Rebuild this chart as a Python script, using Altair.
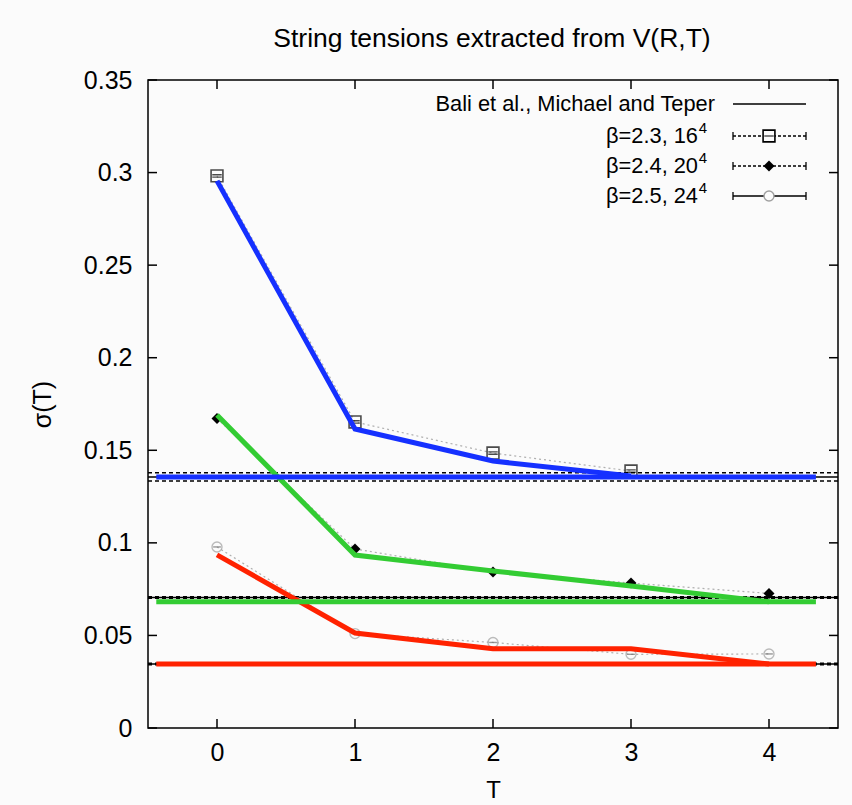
import altair as alt
import pandas as pd

# ---------------- data ----------------
T_TICKS = [0, 1, 2, 3, 4]
SIGMA_TICKS = [0, 0.05, 0.1, 0.15, 0.2, 0.25, 0.3, 0.35]

# measured string tensions (points)
b23_T = [0, 1, 2, 3]
b23_sigma = [0.2982, 0.1653, 0.1485, 0.1388]
b24_T = [0, 1, 2, 3, 4]
b24_sigma = [0.1672, 0.0967, 0.0843, 0.0783, 0.0727]
b25_T = [0, 1, 2, 3, 4]
b25_sigma = [0.0978, 0.0510, 0.0462, 0.0398, 0.0400]

# thick coloured curves
fit23_T = [0, 1, 2, 3]
fit23_sigma = [0.2955, 0.1615, 0.1442, 0.1361]
fit24_T = [0, 1, 2, 3, 4]
fit24_sigma = [0.1690, 0.0934, 0.0848, 0.0767, 0.0682]
fit25_T = [0, 1, 2, 3, 4]
fit25_sigma = [0.0935, 0.0513, 0.0428, 0.0428, 0.0346]

# thick coloured asymptotes
asym_sigma = [0.1356, 0.0682, 0.0346]
asym_T_start = -0.44
asym_T_end = 4.34

# Bali et al., Michael and Teper reference values (central, upper, lower)
bali_sigma = [0.1356, 0.0705, 0.0346]
bali_upper = [0.1378, 0.0709, 0.0350]
bali_lower = [0.1334, 0.0701, 0.0342]
T_MIN, T_MAX = -0.5, 4.5

SERIES_COLORS = ["#1530ff", "#33cc33", "#ff2200"]
FONT = "Liberation Sans"
W, H = 690, 648

xs = alt.Scale(domain=[T_MIN, T_MAX], nice=False, zero=False)
ys = alt.Scale(domain=[0, 0.35], nice=False, zero=False)

xaxis = alt.Axis(values=T_TICKS, format="d", title="T", ticks=False, domain=False, grid=False,
                 labelFont=FONT, labelFontSize=25, labelColor="black", labelPadding=12,
                 titleFont=FONT, titleFontSize=24, titleFontWeight="normal", titleColor="black",
                 titleY=69, titleBaseline="alphabetic")
yaxis = alt.Axis(values=SIGMA_TICKS, format="~g", title="σ(T)", ticks=False, domain=False, grid=False,
                 labelFont=FONT, labelFontSize=25, labelColor="black", labelPadding=16,
                 titleFont=FONT, titleFontSize=25, titleFontWeight="normal", titleColor="black",
                 titleX=-106, titleY=H / 2, titleAngle=270, titleAlign="center", titleBaseline="middle")


def X(field="T"):
    return alt.X(f"{field}:Q", scale=xs, axis=xaxis)


def Y(field="sigma"):
    return alt.Y(f"{field}:Q", scale=ys, axis=yaxis)


layers = []

# ---- Bali et al. horizontal reference lines ----
bali_df = pd.DataFrame({"sigma": bali_sigma, "up": bali_upper, "lo": bali_lower,
                        "T": [T_MIN] * 3, "T2": [T_MAX] * 3})
layers.append(alt.Chart(bali_df).mark_rule(color="black", strokeWidth=1.5).encode(
    x=X(), x2="T2:Q", y=Y()))
layers.append(alt.Chart(bali_df).mark_rule(color="black", strokeWidth=1.5, strokeDash=[4, 3]).encode(
    x=X(), x2="T2:Q", y=Y("up")))
layers.append(alt.Chart(bali_df).mark_rule(color="black", strokeWidth=1.5, strokeDash=[4, 3]).encode(
    x=X(), x2="T2:Q", y=Y("lo")))

# ---- gray dotted connecting lines ----
pts = pd.concat([
    pd.DataFrame({"T": b23_T, "sigma": b23_sigma, "s": "b23"}),
    pd.DataFrame({"T": b24_T, "sigma": b24_sigma, "s": "b24"}),
    pd.DataFrame({"T": b25_T, "sigma": b25_sigma, "s": "b25"}),
])
layers.append(alt.Chart(pts).mark_line(color="#b0b0b0", strokeWidth=1.2, strokeDash=[2, 3]).encode(
    x=X(), y=Y(), detail="s:N"))

# ---- markers ----
d23 = pts[pts.s == "b23"]
d24 = pts[pts.s == "b24"]
d25 = pts[pts.s == "b25"]
layers.append(alt.Chart(d23).mark_point(shape="square", size=140, filled=False, color="black",
                                        strokeWidth=1.6).encode(x=X(), y=Y()))
layers.append(alt.Chart(d23).mark_point(shape="M-1,-0.25L1,-0.25M-1,0.25L1,0.25", size=90,
                                        color="black", strokeWidth=1.4).encode(x=X(), y=Y()))
layers.append(alt.Chart(d24).mark_point(shape="diamond", size=120, filled=True, color="black",
                                        opacity=1).encode(x=X(), y=Y()))
layers.append(alt.Chart(d25).mark_point(shape="circle", size=100, filled=False, color="#a0a0a0",
                                        strokeWidth=1.4).encode(x=X(), y=Y()))
layers.append(alt.Chart(d25).mark_point(shape="M-1,0L1,0", size=60,
                                        color="#707070", strokeWidth=1.4).encode(x=X(), y=Y()))

# ---- thick coloured curves ----
fits = [(fit23_T, fit23_sigma), (fit24_T, fit24_sigma), (fit25_T, fit25_sigma)]
for (ft, fsig), col in zip(fits, SERIES_COLORS):
    df = pd.DataFrame({"T": ft, "sigma": fsig})
    layers.append(alt.Chart(df).mark_line(color=col, strokeWidth=5, strokeJoin="miter").encode(
        x=X(), y=Y()))

# ---- thick coloured asymptotes ----
for sig, col in zip(asym_sigma, SERIES_COLORS):
    df = pd.DataFrame({"T": [asym_T_start], "T2": [asym_T_end], "sigma": [sig]})
    layers.append(alt.Chart(df).mark_rule(color=col, strokeWidth=5).encode(
        x=X(), x2="T2:Q", y=Y()))

# ---- inner (gnuplot-style) ticks ----
xt = pd.DataFrame({"T": T_TICKS})
yt = pd.DataFrame({"sigma": SIGMA_TICKS})
layers.append(alt.Chart(xt).mark_rule(color="black", strokeWidth=1.5).encode(
    x=X(), y=alt.value(H), y2=alt.value(H - 9)))
layers.append(alt.Chart(xt).mark_rule(color="black", strokeWidth=1.5).encode(
    x=X(), y=alt.value(0), y2=alt.value(9)))
layers.append(alt.Chart(yt).mark_rule(color="black", strokeWidth=1.5).encode(
    y=Y(), x=alt.value(0), x2=alt.value(9)))
layers.append(alt.Chart(yt).mark_rule(color="black", strokeWidth=1.5).encode(
    y=Y(), x=alt.value(W - 9), x2=alt.value(W)))

# ---- legend (drawn by hand, gnuplot key style) ----
LEG_LABELS = ["Bali et al., Michael and Teper", "β=2.3, 16", "β=2.4, 20", "β=2.5, 24"]
LEG_SUP = ["", "4", "4", "4"]
row_y = [24, 56, 86, 116]
sym_x0, sym_x1, sym_xc = 585, 658, 621
one = pd.DataFrame({"k": [0]})

layers.append(alt.Chart(one).mark_text(align="right", baseline="middle", font=FONT, fontSize=21.8,
                                       color="black").encode(
    x=alt.value(567), y=alt.value(row_y[0]), text=alt.value(LEG_LABELS[0])))
for lab, sup, ry in zip(LEG_LABELS[1:], LEG_SUP[1:], row_y[1:]):
    layers.append(alt.Chart(one).mark_text(align="right", baseline="middle", font=FONT, fontSize=21.8,
                                           color="black").encode(
        x=alt.value(550), y=alt.value(ry), text=alt.value(lab)))
    layers.append(alt.Chart(one).mark_text(align="right", baseline="middle", font=FONT, fontSize=15,
                                           color="black").encode(
        x=alt.value(559), y=alt.value(ry - 8), text=alt.value(sup)))

# row 1: solid black line
layers.append(alt.Chart(one).mark_rule(color="black", strokeWidth=1.5).encode(
    x=alt.value(sym_x0), x2=alt.value(sym_x1), y=alt.value(row_y[0])))
# rows 2,3: dotted lines with end bars; row 4 solid
for i, dash in zip([1, 2, 3], [[3, 2], [3, 2], None]):
    kw = dict(color="black", strokeWidth=1.3)
    if dash:
        kw["strokeDash"] = dash
    layers.append(alt.Chart(one).mark_rule(**kw).encode(
        x=alt.value(sym_x0), x2=alt.value(sym_x1), y=alt.value(row_y[i])))
    for ex in (sym_x0, sym_x1):
        layers.append(alt.Chart(one).mark_rule(color="black", strokeWidth=1.3).encode(
            x=alt.value(ex), y=alt.value(row_y[i] - 4), y2=alt.value(row_y[i] + 4)))

layers.append(alt.Chart(one).mark_point(shape="square", size=140, filled=True, fill="#fbfbfb",
                                        stroke="black", strokeWidth=1.6, opacity=1).encode(
    x=alt.value(sym_xc), y=alt.value(row_y[1])))
layers.append(alt.Chart(one).mark_point(shape="M-1,0L1,0", size=90, color="black", strokeWidth=1.4).encode(
    x=alt.value(sym_xc), y=alt.value(row_y[1])))
layers.append(alt.Chart(one).mark_point(shape="diamond", size=120, filled=True, color="black",
                                        opacity=1).encode(x=alt.value(sym_xc), y=alt.value(row_y[2])))
layers.append(alt.Chart(one).mark_point(shape="circle", size=100, filled=True, fill="#fbfbfb",
                                        stroke="#a0a0a0", strokeWidth=1.4, opacity=1).encode(
    x=alt.value(sym_xc), y=alt.value(row_y[3])))

# ---- title ----
layers.append(alt.Chart(one).mark_text(align="center", baseline="alphabetic", font=FONT, fontSize=26.5,
                                       color="black").encode(
    x=alt.value(W / 2 - 1), y=alt.value(-33), text=alt.value("String tensions extracted from V(R,T)")))

chart = alt.layer(*layers).properties(
    width=W, height=H,
    autosize=alt.AutoSizeParams(type="none"),
    padding={"left": 148, "top": 80, "right": 14, "bottom": 77},
    background="#fbfbfb",
).configure_view(stroke="black", strokeWidth=1.5)

chart.save("out.html", embed_options={"renderer": "svg", "actions": False})
